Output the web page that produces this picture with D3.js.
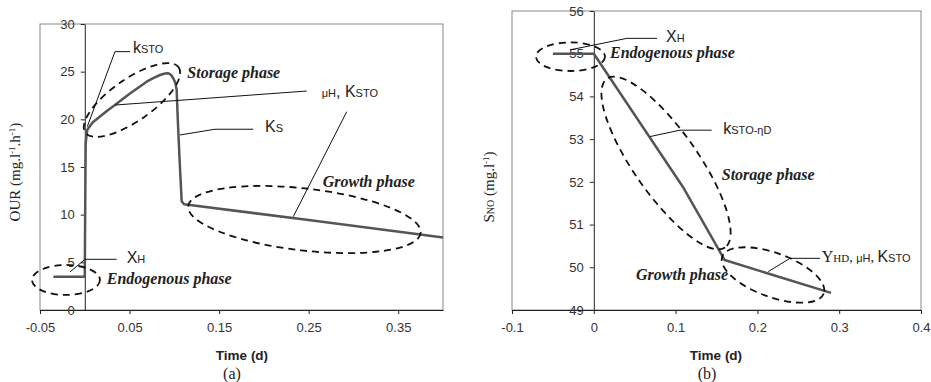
<!DOCTYPE html>
<html lang="en">
<head>
<meta charset="UTF-8">
<title>OUR and SNO profiles</title>
<script src="https://d3js.org/d3.v7.min.js"></script>
<style>
body { margin: 0; background: #fff; }
svg { display: block; }
.tick text { font-family: "Liberation Sans", Arial, sans-serif; font-size: 13px; fill: #333; }
.tick line, .domain { stroke: #222; }
</style>
</head>
<body>
<svg width="931" height="382"></svg>
<script>
// ---- data ----
// (a) oxygen uptake rate
var timeA = [-0.035, 0, 0.0005, 0.001, 0.0028, 0.009, 0.017, 0.025, 0.0337, 0.042, 0.0505, 0.06, 0.0691, 0.077, 0.084, 0.0895, 0.0933, 0.0965, 0.0988, 0.1012, 0.1026, 0.1037, 0.106, 0.1082, 0.1108, 0.25, 0.366, 0.4];
var ourA = [3.5, 3.5, 11, 17.5, 18.9, 19.7, 20.3, 20.9, 21.5, 22.1, 22.7, 23.35, 23.95, 24.35, 24.65, 24.8, 24.83, 24.65, 24.3, 23.8, 23.1, 20.3, 15.5, 11.4, 11.1, 9.43, 8.02, 7.6];
var xTicksA = [-0.05, 0.05, 0.15, 0.25, 0.35];
var yTicksA = [0, 5, 10, 15, 20, 25, 30];

// (b) nitrate
var timeB = [-0.05, 0, 0.11, 0.16, 0.29];
var snoB = [55, 55, 51.85, 50.17, 49.4];
var xTicksB = [-0.1, 0, 0.1, 0.2, 0.3, 0.4];
var yTicksB = [49, 50, 51, 52, 53, 54, 55, 56];

var sans = '"Liberation Sans", Arial, sans-serif';
var serif = '"Liberation Serif", "Times New Roman", serif';

var svg = d3.select('svg');

function fmt(d) { return String(+d.toFixed(2)); }

// rich text: parts = [text, size, family, style, weight, baseline-shift]
function rich(g, px, py, parts, anchor) {
    var t = g.append('text').attr('x', px).attr('y', py).attr('fill', '#222')
        .attr('text-anchor', anchor || 'start');
    parts.forEach(function(p) {
        var s = t.append('tspan').attr('font-size', p[1]).attr('font-family', p[2] || sans).text(p[0]);
        if (p[3]) s.attr('font-style', p[3]);
        if (p[4]) s.attr('font-weight', p[4]);
        if (p[5]) s.attr('baseline-shift', p[5]);
    });
    return t;
}

function panel(cfg) {
    var x = d3.scaleLinear().domain(cfg.xDomain).range(cfg.xRange);
    var y = d3.scaleLinear().domain(cfg.yDomain).range(cfg.yRange);
    var g = svg.append('g');

    // grey frame
    g.append('rect')
        .attr('x', cfg.xRange[0]).attr('y', cfg.yRange[1])
        .attr('width', cfg.xRange[1] - cfg.xRange[0])
        .attr('height', cfg.yRange[0] - cfg.yRange[1])
        .attr('fill', 'none').attr('stroke', '#888').attr('stroke-width', 1);

    g.append('g').attr('transform', 'translate(0,' + cfg.yRange[0] + ')')
        .call(d3.axisBottom(x).tickValues(cfg.xTicks).tickFormat(fmt).tickSize(4).tickSizeOuter(0).tickPadding(9));
    g.append('g').attr('transform', 'translate(' + x(0) + ',0)')
        .call(d3.axisLeft(y).tickValues(cfg.yTicks).tickFormat(fmt).tickSize(4).tickSizeOuter(0).tickPadding(6));

    // data curve
    var line = d3.line().x(function(d) { return x(d[0]); }).y(function(d) { return y(d[1]); });
    g.append('path').datum(d3.zip(cfg.xs, cfg.ys))
        .attr('d', line).attr('fill', 'none')
        .attr('stroke', '#555').attr('stroke-width', 2.5).attr('stroke-linejoin', 'round');

    // dashed ellipses
    cfg.ellipses.forEach(function(e) {
        g.append('ellipse')
            .attr('transform', 'translate(' + x(e.cx) + ',' + y(e.cy) + ') rotate(' + e.rot + ')')
            .attr('rx', e.a).attr('ry', e.b)
            .attr('fill', 'none').attr('stroke', '#111').attr('stroke-width', 1.8)
            .attr('stroke-dasharray', '7,5');
    });

    // leader lines
    cfg.leaders.forEach(function(pts) {
        g.append('path').datum(pts).attr('d', line)
            .attr('fill', 'none').attr('stroke', '#111').attr('stroke-width', 1);
    });

    // labels
    cfg.labels.forEach(function(l) {
        rich(g, x(l.at[0]), y(l.at[1]), l.parts);
    });

    // axis titles
    g.append('text').attr('x', cfg.timeX).attr('y', 360)
        .attr('text-anchor', 'middle').attr('font-family', sans).attr('font-weight', 'bold')
        .attr('font-size', 13.5).attr('fill', '#222').text('Time (d)');
    g.append('text').attr('x', cfg.tagX).attr('y', 379)
        .attr('text-anchor', 'middle').attr('font-family', serif)
        .attr('font-size', 16).attr('fill', '#222').text(cfg.tag);

    var yt = rich(g, 0, 0, cfg.yTitle, 'middle');
    yt.attr('transform', 'translate(' + cfg.yTitlePos[0] + ',' + cfg.yTitlePos[1] + ') rotate(-90)');
}

var ph = function(s) { return [s, 16, serif, 'italic', 'bold']; };
var big = function(s) { return [s, 16, sans]; };
var sm = function(s) { return [s, 11, sans]; };

panel({
    xs: timeA, ys: ourA,
    xDomain: [-0.05, 0.4], xRange: [40, 443],
    yDomain: [0, 30], yRange: [310, 24],
    xTicks: xTicksA, yTicks: yTicksA,
    timeX: 242, tagX: 232, tag: '(a)',
    yTitlePos: [20, 172],
    yTitle: [['OUR (mg.l', 15, serif], ['-1', 9, serif, null, null, 'super'], ['.h', 15, serif], ['-1', 9, serif, null, null, 'super'], [')', 15, serif]],
    ellipses: [
        { cx: -0.021, cy: 3.15, a: 34, b: 15, rot: 0 },
        { cx: 0.0527, cy: 22.03, a: 57, b: 21, rot: -35 },
        { cx: 0.2453, cy: 9.49, a: 117, b: 31, rot: 6.6 }
    ],
    leaders: [
        [[0.0028, 19.23], [0.0337, 27.1], [0.0505, 27.1]],
        [[0.0337, 21.5], [0.2478, 22.97]],
        [[0.1063, 18.36], [0.1454, 18.96], [0.1882, 18.96]],
        [[0.2925, 20.8], [0.2328, 9.79]],
        [[-0.0165, 3.99], [0.0002, 5.32], [0.0356, 5.32]]
    ],
    labels: [
        { at: [0.0538, 27.0], parts: [big('k'), sm('STO')] },
        { at: [0.2646, 22.38], parts: [sm('\u03bcH'), big(', K'), sm('STO')] },
        { at: [0.2012, 18.7], parts: [big('K'), sm('S')] },
        { at: [0.0468, 4.96], parts: [big('X'), sm('H')] },
        { at: [0.1145, 24.34], parts: [ph('Storage phase')] },
        { at: [0.2657, 12.93], parts: [ph('Growth phase')] },
        { at: [0.0245, 2.73], parts: [ph('Endogenous phase')] }
    ]
});

panel({
    xs: timeB, ys: snoB,
    xDomain: [-0.1, 0.4], xRange: [512, 921],
    yDomain: [49, 56], yRange: [310, 11],
    xTicks: xTicksB, yTicks: yTicksB,
    timeX: 716, tagX: 707, tag: '(b)',
    yTitlePos: [494, 187],
    yTitle: [['S', 15, serif], ['NO', 10, serif], [' (mg.l', 15, serif], ['-1', 9, serif, null, null, 'super'], [')', 15, serif]],
    ellipses: [
        { cx: -0.0285, cy: 54.93, a: 34.5, b: 14.3, rot: 0 },
        { cx: 0.0883, cy: 52.44, a: 103, b: 32, rot: 55 },
        { cx: 0.2191, cy: 49.82, a: 54, b: 22, rot: 20 }
    ],
    leaders: [
        [[-0.0291, 55.09], [0.0406, 55.36], [0.0773, 55.36]],
        [[0.0687, 53.06], [0.1054, 53.21], [0.1441, 53.21]],
        [[0.2133, 49.9], [0.2399, 50.21], [0.2765, 50.21]]
    ],
    labels: [
        { at: [0.0883, 55.27], parts: [big('X'), sm('H')] },
        { at: [0.1583, 53.13], parts: [big('k'), sm('STO-\u03b7D')] },
        { at: [0.2786, 50.12], parts: [['Y', 16, serif], ['HD', 11, serif], [', ', 14, serif], sm('\u03bcH'), [', ', 14, serif], big('K'), sm('STO')] },
        { at: [0.0198, 54.89], parts: [ph('Endogenous phase')] },
        { at: [0.1564, 52.04], parts: [ph('Storage phase')] },
        { at: [0.0516, 49.7], parts: [ph('Growth phase')] }
    ]
});
</script>
</body>
</html>
